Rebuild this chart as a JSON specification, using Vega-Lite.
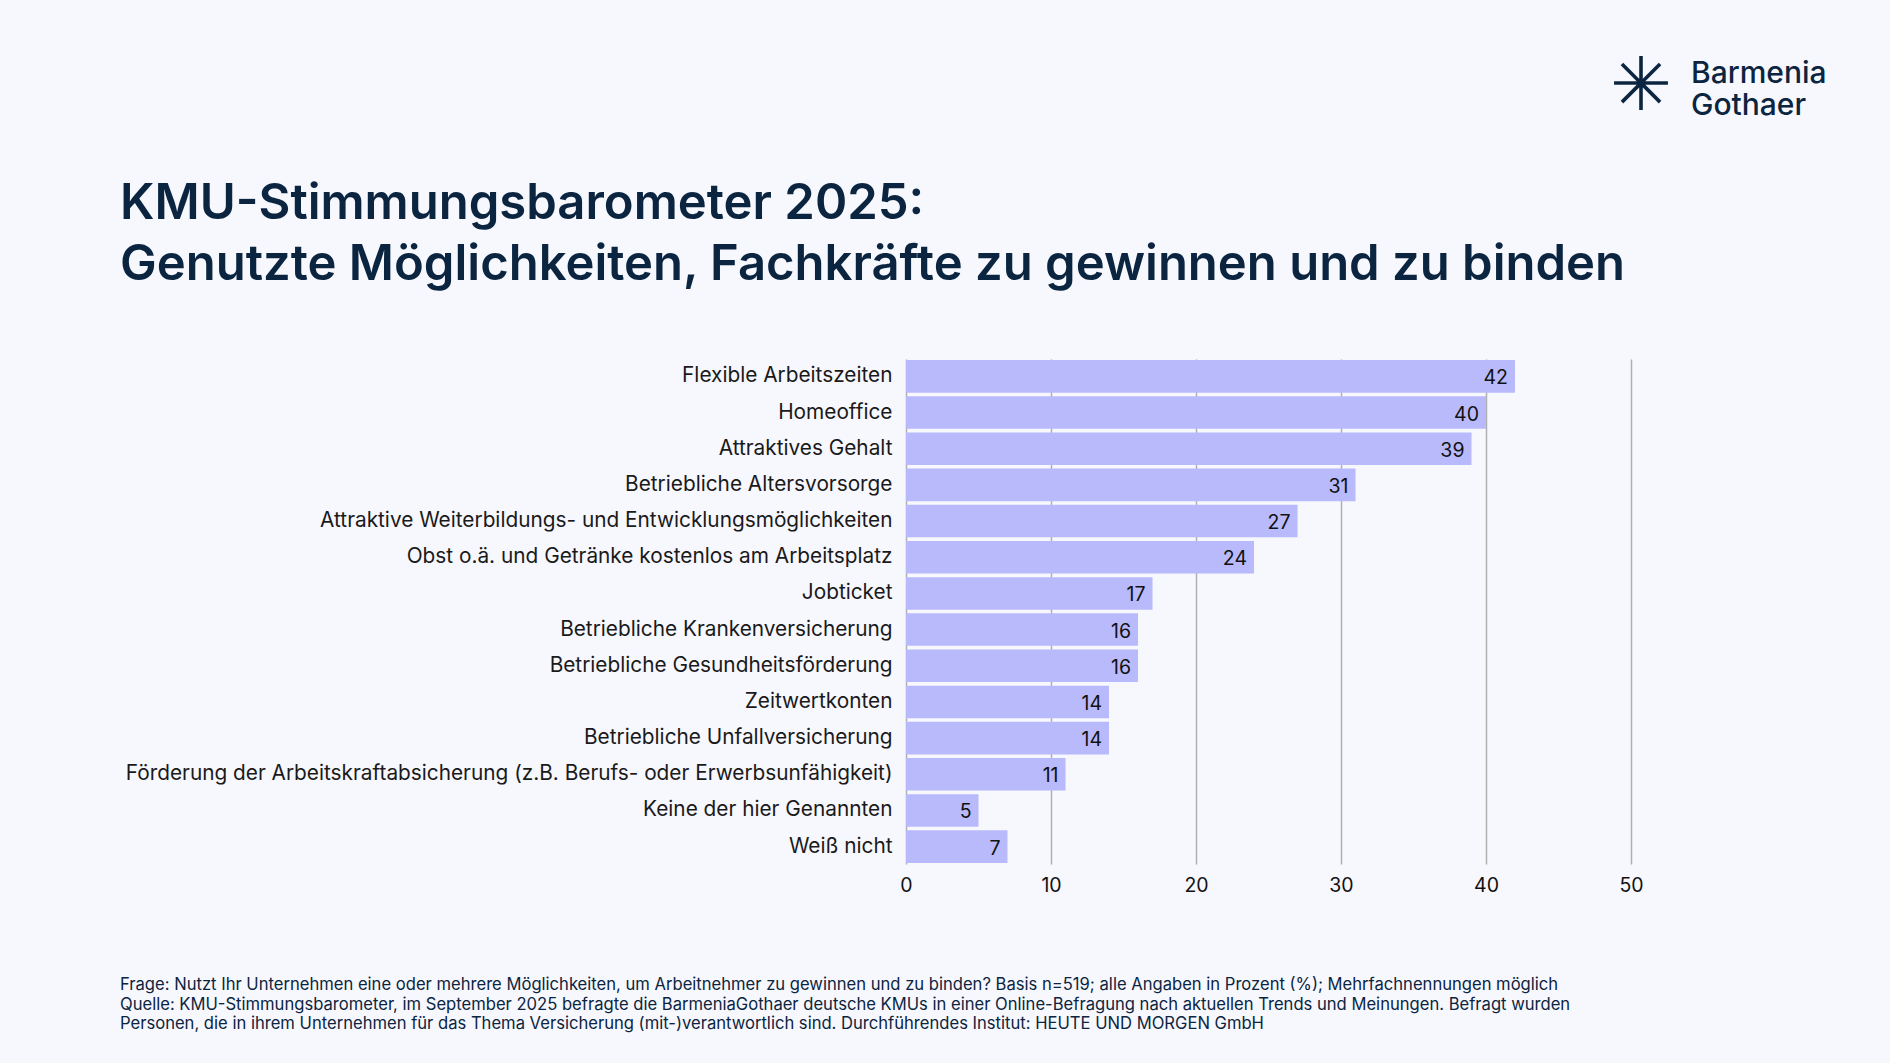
{
  "$schema": "https://vega.github.io/schema/vega-lite/v6.json",
  "width": 725,
  "height": 505,
  "autosize": {"type": "none"},
  "padding": {"left": 906, "top": 359, "right": 259, "bottom": 199},
  "background": "#f7f7fe",
  "layer": [
    {
      "data": {
        "values": [
          {"massnahme": "Flexible Arbeitszeiten", "anteil": 42},
          {"massnahme": "Homeoffice", "anteil": 40},
          {"massnahme": "Attraktives Gehalt", "anteil": 39},
          {"massnahme": "Betriebliche Altersvorsorge", "anteil": 31},
          {"massnahme": "Attraktive Weiterbildungs- und Entwicklungsmöglichkeiten", "anteil": 27},
          {"massnahme": "Obst o.ä. und Getränke kostenlos am Arbeitsplatz", "anteil": 24},
          {"massnahme": "Jobticket", "anteil": 17},
          {"massnahme": "Betriebliche Krankenversicherung", "anteil": 16},
          {"massnahme": "Betriebliche Gesundheitsförderung", "anteil": 16},
          {"massnahme": "Zeitwertkonten", "anteil": 14},
          {"massnahme": "Betriebliche Unfallversicherung", "anteil": 14},
          {"massnahme": "Förderung der Arbeitskraftabsicherung (z.B. Berufs- oder Erwerbsunfähigkeit)", "anteil": 11},
          {"massnahme": "Keine der hier Genannten", "anteil": 5},
          {"massnahme": "Weiß nicht", "anteil": 7}
        ]
      },
      "encoding": {
        "y": {
          "field": "massnahme",
          "type": "nominal",
          "sort": null,
          "scale": {"paddingInner": 0.1, "paddingOuter": 0.03},
          "axis": {
            "title": null,
            "ticks": false,
            "domain": false,
            "labelPadding": 14,
            "labelLimit": 0,
            "labelFont": "Inter",
            "labelFontSize": 20.8,
            "labelColor": "#1a1a1a"
          }
        },
        "x": {
          "field": "anteil",
          "type": "quantitative",
          "scale": {"domain": [0, 50], "nice": false},
          "axis": {
            "title": null,
            "values": [0, 10, 20, 30, 40, 50],
            "ticks": false,
            "domain": false,
            "grid": true,
            "gridColor": "#b0b0b0",
            "gridWidth": 1.5,
            "labelFlush": false,
            "labelPadding": 12,
            "labelFont": "Inter",
            "labelFontSize": 19.5,
            "labelColor": "#111111"
          }
        }
      },
      "layer": [
        {"mark": {"type": "bar", "color": "#b8bafc"}},
        {
          "mark": {
            "type": "text",
            "align": "right",
            "baseline": "middle",
            "dx": -7,
            "dy": 2,
            "font": "Inter",
            "fontSize": 19.5,
            "color": "#111111"
          },
          "encoding": {"text": {"field": "anteil", "type": "quantitative"}}
        }
      ]
    },
    {
      "data": {"values": [{"marke": "Barmenia Gothaer"}]},
      "layer": [
        {
          "mark": {
            "type": "text",
            "text": ["KMU-Stimmungsbarometer 2025:", "Genutzte Möglichkeiten, Fachkräfte zu gewinnen und zu binden"],
            "x": -786,
            "y": -140,
            "align": "left",
            "baseline": "alphabetic",
            "lineHeight": 61,
            "font": "Inter",
            "fontSize": 49,
            "fontWeight": 600,
            "color": "#0b2540"
          },
          "encoding": {}
        },
        {
          "mark": {
            "type": "text",
            "text": "✳",
            "x": 735,
            "y": -271,
            "align": "center",
            "baseline": "middle",
            "font": "DejaVu Sans",
            "fontWeight": "bold",
            "fontSize": 74,
            "color": "#0b2540"
          },
          "encoding": {}
        },
        {
          "mark": {
            "type": "text",
            "text": ["Barmenia", "Gothaer"],
            "x": 785,
            "y": -276,
            "align": "left",
            "baseline": "alphabetic",
            "lineHeight": 32,
            "font": "Inter",
            "fontSize": 30,
            "fontWeight": 500,
            "color": "#0b2540"
          },
          "encoding": {}
        },
        {
          "mark": {
            "type": "text",
            "text": [
              "Frage: Nutzt Ihr Unternehmen eine oder mehrere Möglichkeiten, um Arbeitnehmer zu gewinnen und zu binden? Basis n=519;  alle Angaben in Prozent (%); Mehrfachnennungen möglich",
              "Quelle: KMU-Stimmungsbarometer, im September 2025 befragte die BarmeniaGothaer deutsche KMUs in einer Online-Befragung nach aktuellen Trends und Meinungen. Befragt wurden",
              "Personen, die in ihrem Unternehmen für das Thema Versicherung (mit-)verantwortlich sind. Durchführendes Institut: HEUTE UND MORGEN GmbH"
            ],
            "x": -786,
            "y": 631,
            "align": "left",
            "baseline": "alphabetic",
            "lineHeight": 19.5,
            "font": "Inter",
            "fontSize": 16.6,
            "color": "#0b2540"
          },
          "encoding": {}
        }
      ]
    }
  ],
  "config": {"view": {"stroke": null}}
}
